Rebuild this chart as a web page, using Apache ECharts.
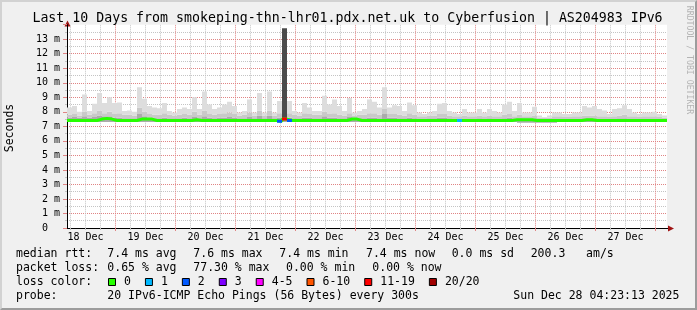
<!DOCTYPE html>
<html><head><meta charset="utf-8">
<script src="https://cdn.jsdelivr.net/npm/echarts@6/dist/echarts.min.js"></script>
<style>
html,body{margin:0;padding:0;background:#f0f0f0;overflow:hidden;}
#chart{position:absolute;left:0;top:0;width:697px;height:310px;}
#frame{position:absolute;left:0;top:0;width:697px;height:310px;box-sizing:border-box;border-top:2px solid #d2d2d2;border-left:2px solid #d2d2d2;border-right:2px solid #9c9c9c;border-bottom:2px solid #9c9c9c;pointer-events:none;}
</style></head>
<body><div id="chart"></div><div id="frame"></div>
<script>
// ---------------- data ----------------
const startHour = 4.6;      // hours after 18 Dec 00:00 where the graph starts
const endHour = 244.6;      // 10 days later
const stepHours = 2;        // one smoke sample every 2 h

const smokeLo = [
 7.3,7.3,7.3,7.3,7.3,7.3,7.3,7.3,7.3,7.3, 7.3,7.3,7.3,7.3,7.3,7.3,7.3,7.3,7.3,7.3,
 7.3,7.3,7.3,7.3,7.3,7.3,7.3,7.3,7.3,7.3, 7.3,7.3,7.3,7.3,7.3,7.3,7.3,7.3,7.3,7.3,
 7.3,7.3,7.3,7.3,7.3,7.3,7.3,7.3,7.3,7.3, 7.3,7.3,7.3,7.3,7.3,7.3,7.3,7.3,7.3,7.3,
 7.3,7.3,7.3,7.3,7.3,7.3,7.3,7.3,7.3,7.3, 7.3,7.3,7.3,7.3,7.3,7.3,7.3,7.3,7.3,7.3,
 7.3,7.3,7.3,7.3,7.3,7.3,7.3,7.3,7.3,7.3, 7.25,7.25,7.25,7.25,7.25,7.25,7.25,7.25,7.3,7.3,
 7.3,7.3,7.3,7.3,7.3,7.3,7.3,7.3,7.3,7.3, 7.3,7.3,7.3,7.3,7.3,7.3,7.3,7.3,7.3,7.3
];
const smokeDark = [
 7.6,7.65,7.6,7.7,7.6,7.65,7.75,7.7,7.7,7.6, 7.6,7.55,7.55,7.55,7.85,7.7,7.6,7.55,7.55,7.6,
 7.55,7.55,7.55,7.6,7.55,7.65,7.55,7.7,7.6,7.55, 7.6,7.6,7.65,7.6,7.55,7.55,7.65,7.55,7.75,7.55,
 7.75,7.55,7.6,7.8,7.6,7.55,7.55,7.6,7.6,7.55, 7.55,7.7,7.6,7.6,7.55,7.55,7.65,7.55,7.55,7.55,
 7.6,7.6,7.55,7.85,7.6,7.6,7.55,7.55,7.6,7.55, 7.5,7.5,7.55,7.55,7.6,7.6,7.55,7.5,7.5,7.5,
 7.5,7.5,7.55,7.5,7.55,7.5,7.5,7.55,7.6,7.5, 7.55,7.5,7.5,7.55,7.5,7.5,7.5,7.5,7.5,7.5,
 7.5,7.5,7.5,7.55,7.55,7.55,7.5,7.5,7.5,7.5, 7.55,7.55,7.5,7.5,7.5,7.5,7.5,7.5,7.5,7.5
];
const smokeMid = [
 7.8,7.85,7.75,8.0,7.8,7.9,8.1,7.9,8.0,7.85, 7.9,7.8,7.8,7.75,8.3,8.0,7.85,7.8,7.8,7.9,
 7.8,7.75,7.8,7.85,7.8,8.0,7.8,8.1,7.85,7.8, 7.85,7.9,7.95,7.85,7.75,7.8,7.95,7.75,8.1,7.75,
 8.1,7.75,7.9,8.2,7.9,7.8,7.75,7.9,7.85,7.8, 7.8,8.0,7.85,7.9,7.8,7.75,7.9,7.75,7.8,7.8,
 7.9,7.9,7.8,8.2,7.85,7.85,7.8,7.75,7.9,7.8, 7.7,7.7,7.75,7.75,7.85,7.85,7.75,7.7,7.7,7.75,
 7.7,7.7,7.75,7.7,7.75,7.7,7.7,7.8,7.85,7.7, 7.8,7.7,7.7,7.75,7.6,7.6,7.6,7.7,7.7,7.65,
 7.65,7.7,7.7,7.75,7.75,7.75,7.7,7.7,7.65,7.7, 7.75,7.8,7.7,7.7,7.65,7.7,7.7,7.7,7.65,7.6
];
const smokeHi = [
 8.3,8.4,8.0,9.2,8.05,8.55,9.3,8.6,9.0,8.6, 8.65,8.05,8.1,8.0,9.7,8.9,8.4,8.3,8.25,8.6,
 8.05,7.95,8.2,8.3,8.2,9.0,8.2,9.4,8.5,8.2, 8.3,8.5,8.7,8.4,7.95,8.05,8.85,7.95,9.3,7.95,
 9.4,7.95,8.75,9.0,8.75,8.05,7.95,8.6,8.3,8.05, 8.05,9.1,8.5,8.85,8.4,8.05,8.95,7.95,8.05,8.2,
 8.85,8.7,8.3,9.7,8.3,8.45,8.4,8.05,8.65,8.45, 7.95,7.85,7.95,8.05,8.55,8.6,8.05,7.95,7.85,8.2,
 7.95,7.95,8.2,7.95,8.2,8.05,7.95,8.5,8.7,8.05, 8.6,7.95,7.95,8.35,7.75,7.65,7.75,7.95,7.95,7.85,
 7.85,7.95,7.95,8.4,8.3,8.4,8.2,8.1,7.85,8.2, 8.25,8.45,8.2,7.95,7.85,7.95,7.95,8.0,7.85,7.75
];
const median = [
 7.4,7.4,7.4,7.4,7.4,7.4,7.5,7.55,7.5,7.4, 7.4,7.4,7.4,7.4,7.5,7.5,7.5,7.4,7.4,7.4,
 7.4,7.4,7.4,7.4,7.4,7.45,7.4,7.4,7.4,7.4, 7.4,7.4,7.4,7.4,7.4,7.4,7.4,7.4,7.4,7.4,
 7.4,7.4,7.35,7.5,7.4,7.4,7.4,7.4,7.4,7.4, 7.4,7.4,7.4,7.4,7.4,7.4,7.5,7.5,7.4,7.4,
 7.4,7.4,7.4,7.4,7.4,7.4,7.4,7.4,7.4,7.4, 7.4,7.4,7.4,7.4,7.4,7.4,7.4,7.4,7.4,7.4,
 7.4,7.4,7.4,7.4,7.4,7.4,7.4,7.4,7.4,7.45, 7.45,7.45,7.45,7.4,7.4,7.4,7.4,7.4,7.4,7.4,
 7.4,7.4,7.4,7.45,7.45,7.4,7.4,7.4,7.4,7.4, 7.4,7.4,7.4,7.4,7.4,7.4,7.4,7.4,7.4,7.4
];
// pings lost (out of 20) per sample
const loss = [
 0,0,0,0,0,0,0,0,0,0, 0,0,0,0,0,0,0,0,0,0, 0,0,0,0,0,0,0,0,0,0, 0,0,0,0,0,0,0,0,0,0,
 0,0,2,15,2,0,0,0,0,0, 0,0,0,0,0,0,0,0,0,0, 0,0,0,0,0,0,0,0,0,0, 0,0,0,0,0,0,0,0,1,0,
 0,0,0,0,0,0,0,0,0,0, 0,0,0,0,0,0,0,0,0,0, 0,0,0,0,0,0,0,0,0,0, 0,0,0,0,0,0,0,0,0,0
];
// the one sample where almost all pings were slow (clipped at the top)
const spikeHours = [90.6, 92.6];
const spikeRange = [7.45, 13.75];

const dayLabels = ['18 Dec','19 Dec','20 Dec','21 Dec','22 Dec','23 Dec','24 Dec','25 Dec','26 Dec','27 Dec'];
const labelHours = [12,36,60,84,108,132,156,180,204,228];
const midnightHours = [24,48,72,96,120,144,168,192,216,240];
const quarterHours = [6,12,18,30,36,42,54,60,66,78,84,90,102,108,114,126,132,138,150,156,162,174,180,186,198,204,210,222,228,234];

const lossLabels = ['0','1','2','3','4-5','6-10','11-19','20/20'];
const lossColors = ['#26ff00','#00b8ff','#0059ff','#7e00ff','#ff00ff','#ff5500','#ff0000','#a10000'];
const lossUpper = [0,1,2,3,5,10,19,20];

const titleText = 'Last 10 Days from smokeping-thn-lhr01.pdx.net.uk to Cyberfusion | AS204983 IPv6';
const statLines = [
  {y:254, parts:[[16,'median rtt:'],[107.3,'7.4 ms avg'],[193.3,'7.6 ms max'],[279.3,'7.4 ms min'],[366,'7.4 ms now'],[451.7,'0.0 ms sd'],[530.7,'200.3   am/s']]},
  {y:268, parts:[[16,'packet loss:'],[107.3,'0.65 % avg'],[193.3,'77.30 % max'],[286,'0.00 % min'],[372.3,'0.00 % now']]},
  {y:282, parts:[[16,'loss color:']]},
  {y:296, parts:[[16,'probe:'],[107.3,'20 IPv6-ICMP Echo Pings (56 Bytes) every 300s'],[513.3,'Sun Dec 28 04:23:13 2025']]}
];

// ---------------- build ----------------
const MONO = '"DejaVu Sans Mono", monospace';
const Y_MAX = 14;
const RED_GRID = '#e08484';
const GREY_GRID = '#c4c4c4';
const xs = smokeLo.map((_, k) => startHour + stepHours * k);
function stepData(vals) {
  const d = vals.map((v, k) => [xs[k], v]);
  d.push([endHour, vals[vals.length - 1]]);
  return d;
}

// smoke rows: [x0, x1, lo, dark, mid, hi]
const smokeRows = xs.map((x, k) => [x, x + stepHours, smokeLo[k], smokeDark[k], smokeMid[k], smokeHi[k]]);
const smokeColors = ['#ababab', '#c9c9c9', '#dddddd'];

function bandRect(api, x0, x1, y0, y1, color) {
  const p0 = api.coord([x0, y0]);
  const p1 = api.coord([x1, y1]);
  return { type: 'rect', shape: { x: p0[0], y: p1[1], width: p1[0] - p0[0], height: p0[1] - p1[1] }, style: { fill: color } };
}

// vertical grid lines: [hour, kind] kind 0 = 6-hour (grey), 1 = midnight (red)
const gridColors = [GREY_GRID, RED_GRID];
const vGridRows = quarterHours.map(h => [h, 0]).concat(midnightHours.map(h => [h, 1]));

const series = [];
series.push({
  type: 'custom', name: 'vgrid', data: vGridRows, silent: true, animation: false, z: 1, clip: true,
  encode: { x: 0 },
  renderItem: (params, api) => {
    const h = api.value(0);
    const top = api.coord([h, Y_MAX]);
    const bot = api.coord([h, 0]);
    return { type: 'line', shape: { x1: top[0], y1: top[1], x2: bot[0], y2: bot[1] },
      style: { stroke: gridColors[api.value(1)], lineWidth: 1, lineDash: [1, 1] } };
  }
});
series.push({
  type: 'custom', name: 'smoke', data: smokeRows, silent: true, animation: false, z: 2, clip: true,
  encode: { x: [0, 1], y: [2, 3, 4, 5] },
  renderItem: (params, api) => {
    const x0 = api.value(0), x1 = api.value(1);
    const lv = [api.value(2), api.value(3), api.value(4), api.value(5)];
    const children = [];
    for (let i = 0; i < 3; i++) children.push(bandRect(api, x0, x1, lv[i], lv[i + 1], smokeColors[i]));
    return { type: 'group', children };
  }
});
series.push({
  type: 'custom', name: 'spike', data: [[spikeHours[0], spikeHours[1], spikeRange[0], spikeRange[1]]], silent: true, animation: false, z: 3, clip: true,
  encode: { x: [0, 1], y: [2, 3] },
  renderItem: (params, api) => bandRect(api, api.value(0), api.value(1), api.value(2), api.value(3), '#4b4b4b')
});

// median line (loss 0 colour)
series.push({ type: 'line', step: 'end', data: stepData(median), showSymbol: false, symbol: 'none', silent: true, animation: false,
  lineStyle: { color: lossColors[0], width: 3 }, z: 4, emphasis: { disabled: true } });

// loss coloured segments
loss.forEach((l, k) => {
  if (l <= 0) return;
  const bucket = lossUpper.findIndex(u => l <= u);
  series.push({ type: 'line', data: [[xs[k], median[k]], [xs[k] + stepHours, median[k]]], showSymbol: false, symbol: 'none', silent: true,
    animation: false, lineStyle: { color: lossColors[bucket], width: 3 }, z: 5 });
});

// ---------------- graphics ----------------
const graphic = [];
const txt = (x, y, text, font, extra) => Object.assign({ type: 'text', x, y, silent: true,
  style: { text, font, fill: '#000', align: 'left', verticalAlign: 'middle', textAlign: 'left', textVerticalAlign: 'middle' } }, extra || {});
const ttl = txt(347.5, 19, titleText, '13.25px ' + MONO);
ttl.style.align = ttl.style.textAlign = 'center';
graphic.push(ttl);
const sec = txt(10.5, 128, 'Seconds', '11.5px ' + MONO, { rotation: Math.PI / 2 });
sec.style.align = sec.style.textAlign = 'center';
graphic.push(sec);
const rrd = txt(689, 60, 'RRDTOOL / TOBI OETIKER', '8.2px ' + MONO, { rotation: -Math.PI / 2 });
rrd.style.align = rrd.style.textAlign = 'center';
rrd.style.fill = '#b4b4b4';
graphic.push(rrd);
// axis arrows
graphic.push({ type: 'polygon', silent: true, shape: { points: [[67.5, 20.5], [64.5, 26.5], [70.5, 26.5]] }, style: { fill: '#a01414' } });
graphic.push({ type: 'polygon', silent: true, shape: { points: [[674, 228.5], [668, 225.5], [668, 231.5]] }, style: { fill: '#a01414' } });
graphic.push({ type: 'line', silent: true, shape: { x1: 667, y1: 228.5, x2: 668, y2: 228.5 }, style: { stroke: '#000', lineWidth: 1 } });

statLines.forEach(line => line.parts.forEach(p => graphic.push(txt(p[0], line.y, p[1], '11.5px ' + MONO))));
let lx = 108;
lossLabels.forEach((lab, i) => {
  graphic.push({ type: 'rect', silent: true, shape: { x: lx + 0.5, y: 278.5, width: 7, height: 7 },
    style: { fill: lossColors[i], stroke: '#000', lineWidth: 1 } });
  graphic.push(txt(lx + 16, 282, lab, '11.5px ' + MONO));
  lx = lx + 16 + lab.length * 6.93 + 14;
});

const chart = echarts.init(document.getElementById('chart'), null, { renderer: 'canvas', width: 697, height: 310 });
chart.setOption({
  animation: false,
  backgroundColor: 'transparent',
  grid: { left: 67, right: 30, top: 24.7, bottom: 82, show: true, backgroundColor: '#ffffff', borderWidth: 0, containLabel: false, outerBoundsMode: 'none' },
  xAxis: [
    { type: 'value', min: startHour, max: endHour, position: 'bottom',
      axisLine: { show: true, onZero: false, lineStyle: { color: '#000', width: 1 } },
      axisTick: { show: true, length: 3, customValues: midnightHours, lineStyle: { color: RED_GRID } },
      axisLabel: { show: true, margin: 4, customValues: labelHours, fontFamily: MONO, fontSize: 10, color: '#000',
        formatter: v => dayLabels[labelHours.indexOf(Math.round(v))] || '' },
      splitLine: { show: false }, minorTick: { show: false }, minorSplitLine: { show: false } },
    { type: 'value', min: startHour, max: endHour, position: 'bottom', gridIndex: 0,
      axisLine: { show: false, onZero: false },
      axisTick: { show: true, length: 2, customValues: quarterHours, lineStyle: { color: '#bdbdbd' } },
      axisLabel: { show: false }, splitLine: { show: false } }
  ],
  yAxis: {
    type: 'value', min: 0, max: Y_MAX, interval: 1,
    axisLine: { show: true, onZero: false, lineStyle: { color: '#000', width: 1 } },
    axisTick: { show: true, length: 4, lineStyle: { color: RED_GRID } },
    axisLabel: { margin: 7, fontFamily: MONO, fontSize: 10, color: '#000', showMaxLabel: false, showMinLabel: true,
      formatter: v => (v === 0 ? '0  ' : v + ' m') },
    splitLine: { show: true, showMaxLine: false, lineStyle: { color: RED_GRID, type: [1, 1], width: 1 } },
    minorTick: { show: true, splitNumber: 2, length: 2, lineStyle: { color: GREY_GRID } },
    minorSplitLine: { show: true, lineStyle: { color: GREY_GRID, type: [1, 1], width: 1 } }
  },
  tooltip: { show: false },
  series,
  graphic
});
</script>
</body></html>
